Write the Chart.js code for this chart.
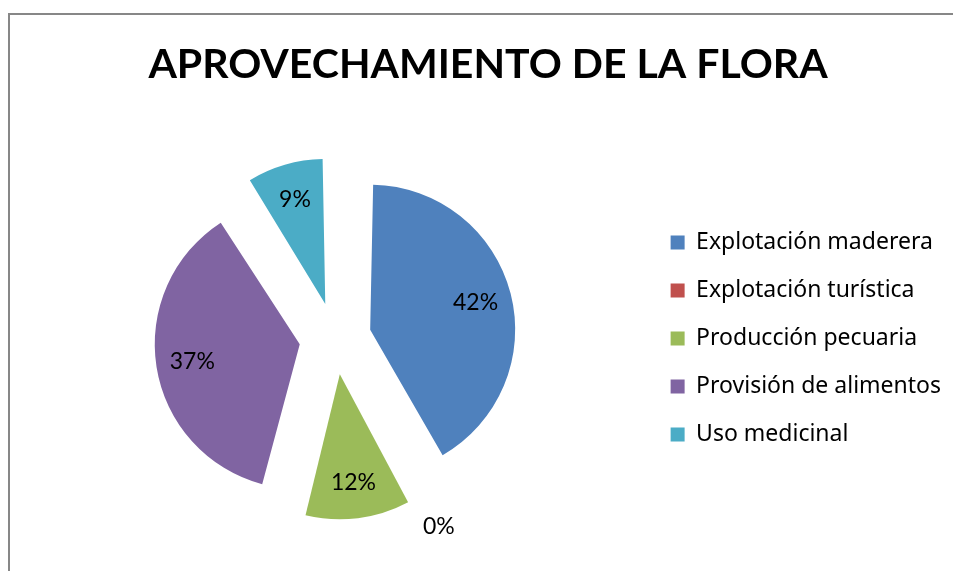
<!DOCTYPE html>
<html>
<head>
<meta charset="utf-8">
<script src="https://cdn.jsdelivr.net/npm/chart.js@4.4.1/dist/chart.umd.min.js"></script>
<style>
  html, body { margin: 0; padding: 0; background: #fff; overflow: hidden; }
  #wrap { position: absolute; left: 0; top: 0; width: 953px; height: 571px; }
</style>
</head>
<body>
<div id="wrap"><canvas id="myChart"></canvas></div>
<script>
const categories = ['Explotación maderera', 'Explotación turística', 'Producción pecuaria', 'Provisión de alimentos', 'Uso medicinal'];
const shares = [42, 0, 12, 37, 9];
const sliceColors = ['#4F81BD', '#C0504D', '#9BBB59', '#8064A2', '#4BACC6'];

const ctx = document.getElementById('myChart');

Chart.defaults.color = 'black';
Chart.defaults.font.family = 'Lato';

// grey outline of the chart object (it runs off the right and bottom edges)
const frame = {
  id: 'frame',
  beforeDraw(chart) {
    const c = chart.ctx;
    c.save();
    c.strokeStyle = '#878787';
    c.lineWidth = 2;
    c.beginPath();
    c.moveTo(9, chart.height + 10);
    c.lineTo(9, 14);
    c.lineTo(chart.width + 10, 14);
    c.stroke();
    c.restore();
  }
};

// Chart.js grows exploded slices a bit depending on their angle; undo that
// so every slice keeps the same radius, like the original exploded pie
const evenRadius = {
  id: 'evenRadius',
  afterDatasetUpdate(chart, args) {
    const meta = args.meta;
    const R = meta.controller.outerRadius;
    meta.data.forEach(arc => {
      const shift = (arc.options.offset || 0) / 4;
      const fix = 1 - Math.sin(Math.min(Math.PI, arc.circumference || 0));
      arc.outerRadius = R - shift * fix;
    });
  }
};

// percentage labels on each slice (outside for the empty one)
const sliceLabels = {
  id: 'sliceLabels',
  afterDatasetsDraw(chart) {
    const c = chart.ctx;
    const meta = chart.getDatasetMeta(0);
    const values = chart.data.datasets[0].data;
    const R = meta.controller.outerRadius;
    c.save();
    c.font = '23px Lato';
    c.fillStyle = '#000';
    c.textAlign = 'center';
    c.textBaseline = 'middle';
    meta.data.forEach((arc, i) => {
      const mid = (arc.startAngle + arc.endAngle) / 2;
      const shift = (arc.options.offset || 0) / 4;
      const dist = values[i] === 0 ? shift + R + 34 : shift + R * 0.75;
      c.fillText(values[i] + '%', arc.x + Math.cos(mid) * dist, arc.y + Math.sin(mid) * dist);
    });
    c.restore();
  }
};

new Chart(ctx, {
  type: 'pie',
  data: {
    labels: categories,
    datasets: [{
      data: shares,
      backgroundColor: sliceColors,
      borderWidth: 0,
      offset: 144,
      radius: 145,
    }],
  },
  options: {
    responsive: true,
    maintainAspectRatio: false,
    animation: false,
    layout: {
      padding: { left: 25, right: 2, top: 0, bottom: 0 }
    },
    plugins: {
      title: {
        display: true,
        text: 'APROVECHAMIENTO DE LA FLORA',
        font: { size: 41, weight: 'bold' },
        color: 'black',
        padding: { top: 40, bottom: 17 },
      },
      legend: {
        position: 'right',
        fullSize: false,
        labels: {
          boxWidth: 14,
          boxHeight: 14,
          padding: 25,
          font: { family: 'Noto Sans', size: 23 },
          color: 'black',
        },
      },
      tooltip: { enabled: false },
    },
  },
  plugins: [frame, evenRadius, sliceLabels],
});
</script>
</body>
</html>
